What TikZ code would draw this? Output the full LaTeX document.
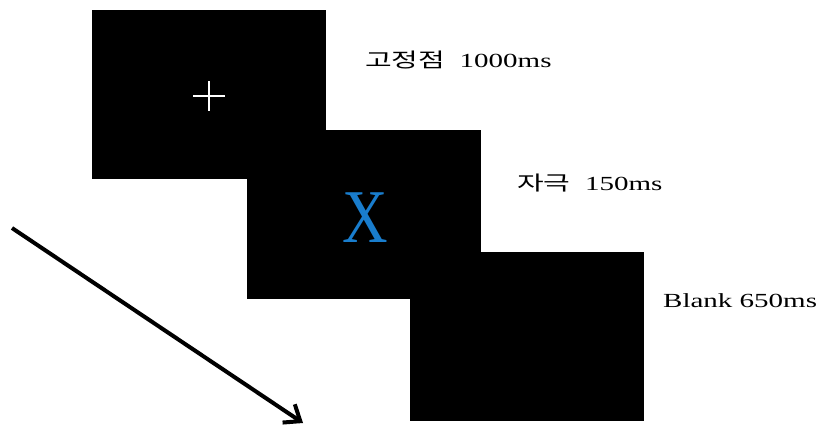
\documentclass[tikz,border=0pt]{standalone}
\usepackage{fontspec}
\setmainfont{Liberation Serif}
\newfontfamily\krfont{Noto Sans CJK KR}
\usetikzlibrary{arrows.meta}
\definecolor{xblue}{RGB}{25,125,205}
\begin{document}
\begin{tikzpicture}[x=1pt,y=-1pt,
  screen/.style={fill=black,draw=none,inner sep=0pt,outer sep=0pt,
    minimum width=234pt,minimum height=169pt,anchor=north west},
  lbl/.style={anchor=west,inner sep=0pt,font=\fontsize{20}{22}\selectfont},
  timearrow/.style={line width=4pt,-{Straight Barb[length=14pt,width=22pt]}}]
\useasboundingbox (0,0) rectangle (829,428);
\node[screen] (s1) at (92,10) {};
\node[screen] (s2) at (247,130) {};
\node[screen] (s3) at (410,252) {};
% fixation cross
\draw[white,line width=2.4pt] (193,96) -- (225,96) (209,81) -- (209,111);
% stimulus
\node[inner sep=0pt,text=xblue,font=\fontsize{76}{76}\selectfont] (x) at (365,218) {\scalebox{0.83}[1]{X}};
% labels
\node[lbl] (l1) at (365,60) {\scalebox{1.45}[1]{{\krfont 고정점}\hspace{0.5em}1000ms}};
\node[lbl] (l2) at (517,183) {\scalebox{1.45}[1]{{\krfont 자극}\hspace{0.5em}150ms}};
\node[lbl] (l3) at (663,301) {\scalebox{1.45}[1]{Blank 650ms}};
% time arrow
\coordinate (a0) at (12,228);
\coordinate (a1) at (303,423);
\draw[timearrow] (a0) -- (a1);
\end{tikzpicture}
\end{document}
